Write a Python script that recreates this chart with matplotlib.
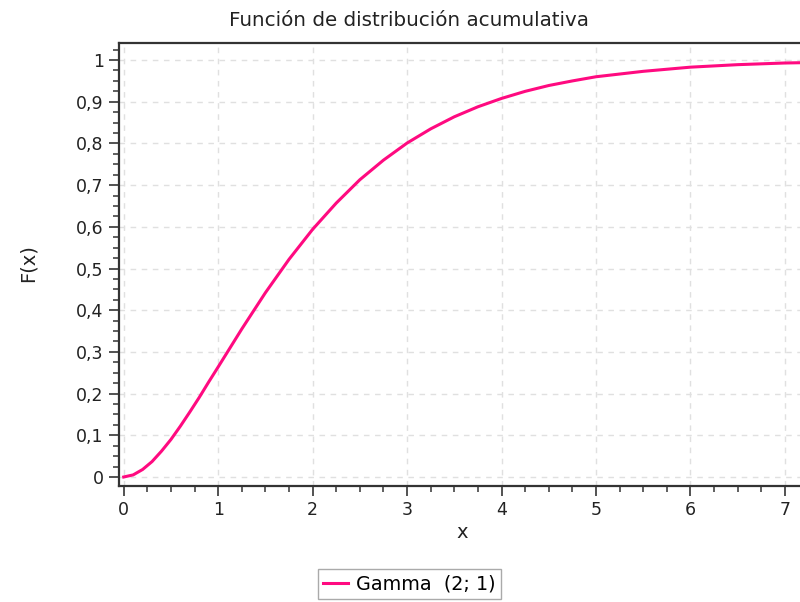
import matplotlib.pyplot as plt
from matplotlib.ticker import MultipleLocator, FuncFormatter

plt.rcParams['font.family'] = ['DejaVu Sans']

# valores (Gamma(2; 1), F(x))
x = [0, 0.1, 0.2, 0.3, 0.4, 0.5, 0.6, 0.7, 0.8, 0.9, 1.0, 1.25, 1.5, 1.75,
     2.0, 2.25, 2.5, 2.75, 3.0, 3.25, 3.5, 3.75, 4.0, 4.25, 4.5, 4.75, 5.0,
     5.5, 6.0, 6.5, 7.0, 7.5]
F = [0, 0.005, 0.018, 0.037, 0.062, 0.090, 0.122, 0.156, 0.191, 0.228,
     0.264, 0.355, 0.442, 0.522, 0.594, 0.657, 0.713, 0.760, 0.801, 0.835,
     0.864, 0.888, 0.908, 0.925, 0.939, 0.950, 0.960, 0.973, 0.983, 0.989,
     0.993, 0.995]
serie = 'Gamma  (2; 1)'

fig = plt.figure(figsize=(8, 6.02), dpi=100)
ax = fig.add_axes([0.14875, 0.1927, 0.85125, 0.7359])

ax.plot(x, F, color='#ff0a80', lw=2.2, label=serie)

ax.set_xlim(-0.05, 7.16)
ax.set_ylim(-0.0216, 1.041)

ax.xaxis.set_major_locator(MultipleLocator(1))
ax.xaxis.set_minor_locator(MultipleLocator(0.25))
ax.yaxis.set_major_locator(MultipleLocator(0.1))
ax.yaxis.set_minor_locator(MultipleLocator(0.025))

coma = FuncFormatter(lambda v, p: ('%g' % round(v, 2)).replace('.', ','))
ax.yaxis.set_major_formatter(coma)

ax.tick_params(which='major', length=7, width=1.3, color='#444444',
               labelsize=12.5, labelcolor='#222222', pad=4)
ax.tick_params(which='minor', length=4.5, width=1.2, color='#444444')

ax.grid(True, which='major', ls=(0, (4, 4)), color='#e0e0e0', lw=1)

for s in ['top', 'left', 'bottom']:
    ax.spines[s].set_linewidth(1.6)
    ax.spines[s].set_color('#333333')
ax.spines['right'].set_visible(False)

fig.text(409 / 800, 1 - 20 / 602, 'Función de distribución acumulativa',
         fontsize=14.3, ha='center', va='center', color='#222222')
ax.set_xlabel('x', fontsize=14, color='#222222')
ax.xaxis.set_label_coords((462 - 119) / 681, -(533 - 486) / 443)
ax.xaxis.label.set_va('center')
ax.set_ylabel('F(x)', fontsize=14, color='#222222')
ax.yaxis.set_label_coords(-(119 - 28) / 681, (486 - 263) / 443)
ax.yaxis.label.set_va('center')

fig.legend(loc='center', bbox_to_anchor=(409.5 / 800, 1 - 584 / 602),
           fontsize=13.8, fancybox=False, edgecolor='#aaaaaa', framealpha=1,
           handlelength=1.3, handletextpad=0.4, borderpad=0.3)

fig.savefig('out.png', dpi=100)
